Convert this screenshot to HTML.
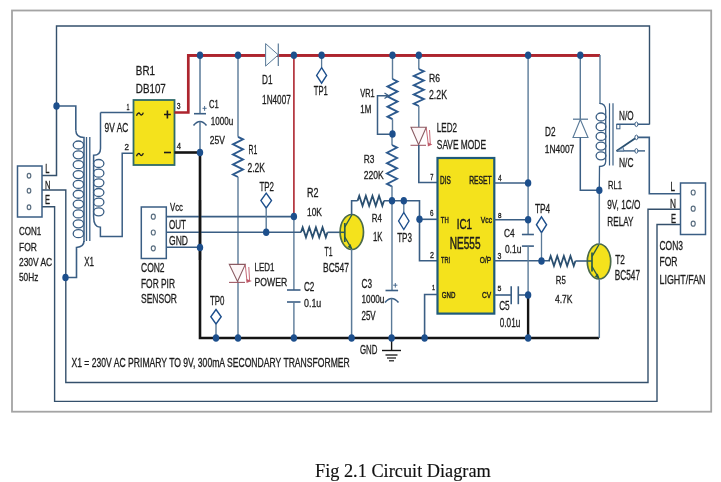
<!DOCTYPE html>
<html><head><meta charset="utf-8"><style>
html,body{margin:0;padding:0;background:#fff;width:721px;height:482px;overflow:hidden}
svg{display:block;will-change:transform}
</style></head><body>
<svg width="721" height="482" viewBox="0 0 721 482">
<rect width="721" height="482" fill="#fff"/>
<rect x="12" y="10.5" width="699.2" height="401.2" fill="none" stroke="#a4a4a4" stroke-width="1.8"/>
<polyline points="56.5,106 56.5,26 649.5,26 649.5,124.5" fill="none" stroke="#34506c" stroke-width="1.4" stroke-linejoin="miter" />
<polyline points="42,175.5 56.5,175.5 56.5,106" fill="none" stroke="#34506c" stroke-width="1.5" stroke-linejoin="miter" />
<polyline points="56.5,106 75.8,106 75.8,130.3" fill="none" stroke="#3a5e84" stroke-width="1.6" stroke-linejoin="miter" />
<polyline points="42,190 65.8,190 65.8,382.5 648,382.5 648,209.2 680.5,209.2" fill="none" stroke="#34506c" stroke-width="1.4" stroke-linejoin="miter" />
<polyline points="42,206.7 54.6,206.7 54.6,401.4 657,401.4 657,224.5 680.5,224.5" fill="none" stroke="#34506c" stroke-width="1.4" stroke-linejoin="miter" />
<polyline points="84,240.8 84,242" fill="none" stroke="#3a5e84" stroke-width="1.4" stroke-linejoin="miter" />
<path d="M84,240.8 Q84,247 76.5,247.5 L76.5,277.5 L65.5,277.5" fill="none" stroke="#3a5e84" stroke-width="1.6"/>
<ellipse cx="65.5" cy="277.5" rx="3.1999999999999997" ry="3.8" fill="#1d4f8c"/>
<ellipse cx="56.5" cy="106" rx="3.1999999999999997" ry="3.8" fill="#1d4f8c"/>
<rect x="17.5" y="166" width="24.5" height="51" fill="#fff" stroke="#3a5e84" stroke-width="1.5"/>
<ellipse cx="29" cy="175.7" rx="1.8" ry="2.4" fill="none" stroke="#5a6e80" stroke-width="1.2"/>
<ellipse cx="29" cy="190.7" rx="1.8" ry="2.4" fill="none" stroke="#5a6e80" stroke-width="1.2"/>
<ellipse cx="29" cy="207.3" rx="1.8" ry="2.4" fill="none" stroke="#5a6e80" stroke-width="1.2"/>
<text x="45.3" y="173.3" font-family="Liberation Sans" font-size="12.99" textLength="4.20" lengthAdjust="spacingAndGlyphs" fill="#1c1c1c" stroke="#1c1c1c" stroke-width="0.3" font-weight="normal">L</text>
<text x="45" y="188.7" font-family="Liberation Sans" font-size="11.73" textLength="5.50" lengthAdjust="spacingAndGlyphs" fill="#1c1c1c" stroke="#1c1c1c" stroke-width="0.3" font-weight="normal">N</text>
<text x="45" y="203.5" font-family="Liberation Sans" font-size="12.57" textLength="5.00" lengthAdjust="spacingAndGlyphs" fill="#1c1c1c" stroke="#1c1c1c" stroke-width="0.3" font-weight="normal">E</text>
<text x="19" y="235.3" font-family="Liberation Sans" font-size="11.59" textLength="22.30" lengthAdjust="spacingAndGlyphs" fill="#1c1c1c" stroke="#1c1c1c" stroke-width="0.3" font-weight="normal">CON1</text>
<text x="19" y="250.5" font-family="Liberation Sans" font-size="11.73" textLength="17.90" lengthAdjust="spacingAndGlyphs" fill="#1c1c1c" stroke="#1c1c1c" stroke-width="0.3" font-weight="normal">FOR</text>
<text x="19" y="265.8" font-family="Liberation Sans" font-size="11.59" textLength="33.20" lengthAdjust="spacingAndGlyphs" fill="#1c1c1c" stroke="#1c1c1c" stroke-width="0.3" font-weight="normal">230V AC</text>
<text x="19" y="281.3" font-family="Liberation Sans" font-size="11.59" textLength="19.30" lengthAdjust="spacingAndGlyphs" fill="#1c1c1c" stroke="#1c1c1c" stroke-width="0.3" font-weight="normal">50Hz</text>
<path d="M75.8,130.3 Q76,137.5 84,137.5 L84,240.8" fill="none" stroke="#3a5e84" stroke-width="1.5"/>
<ellipse cx="78.4" cy="145.00" rx="5.2" ry="4.0" fill="none" stroke="#3a5e84" stroke-width="1.3"/>
<ellipse cx="78.4" cy="154.85" rx="5.2" ry="4.0" fill="none" stroke="#3a5e84" stroke-width="1.3"/>
<ellipse cx="78.4" cy="164.70" rx="5.2" ry="4.0" fill="none" stroke="#3a5e84" stroke-width="1.3"/>
<ellipse cx="78.4" cy="174.55" rx="5.2" ry="4.0" fill="none" stroke="#3a5e84" stroke-width="1.3"/>
<ellipse cx="78.4" cy="184.40" rx="5.2" ry="4.0" fill="none" stroke="#3a5e84" stroke-width="1.3"/>
<ellipse cx="78.4" cy="194.25" rx="5.2" ry="4.0" fill="none" stroke="#3a5e84" stroke-width="1.3"/>
<ellipse cx="78.4" cy="204.10" rx="5.2" ry="4.0" fill="none" stroke="#3a5e84" stroke-width="1.3"/>
<ellipse cx="78.4" cy="213.95" rx="5.2" ry="4.0" fill="none" stroke="#3a5e84" stroke-width="1.3"/>
<ellipse cx="78.4" cy="223.80" rx="5.2" ry="4.0" fill="none" stroke="#3a5e84" stroke-width="1.3"/>
<ellipse cx="78.4" cy="233.65" rx="5.2" ry="4.0" fill="none" stroke="#3a5e84" stroke-width="1.3"/>
<line x1="86.5" y1="137" x2="86.5" y2="241" stroke="#3a5e84" stroke-width="1.3"/>
<line x1="89.8" y1="137" x2="89.8" y2="241" stroke="#3a5e84" stroke-width="1.3"/>
<path d="M100.5,112.5 L100.5,148.5 Q100.5,155.3 93.6,155.3 L93.6,216.5 Q93.6,227.3 100.4,227.3 L100.4,236.4 L122.2,236.4 L122.2,153.3 L133,153.3" fill="none" stroke="#3a5e84" stroke-width="1.5"/>
<polyline points="100.5,112.5 133,112.5" fill="none" stroke="#3a5e84" stroke-width="1.6" stroke-linejoin="miter" />
<ellipse cx="98.7" cy="163.50" rx="5.2" ry="4.0" fill="none" stroke="#3a5e84" stroke-width="1.3"/>
<ellipse cx="98.7" cy="173.16" rx="5.2" ry="4.0" fill="none" stroke="#3a5e84" stroke-width="1.3"/>
<ellipse cx="98.7" cy="182.82" rx="5.2" ry="4.0" fill="none" stroke="#3a5e84" stroke-width="1.3"/>
<ellipse cx="98.7" cy="192.48" rx="5.2" ry="4.0" fill="none" stroke="#3a5e84" stroke-width="1.3"/>
<ellipse cx="98.7" cy="202.14" rx="5.2" ry="4.0" fill="none" stroke="#3a5e84" stroke-width="1.3"/>
<ellipse cx="98.7" cy="211.80" rx="5.2" ry="4.0" fill="none" stroke="#3a5e84" stroke-width="1.3"/>
<text x="104.5" y="131.7" font-family="Liberation Sans" font-size="12.15" textLength="23.80" lengthAdjust="spacingAndGlyphs" fill="#1c1c1c" stroke="#1c1c1c" stroke-width="0.3" font-weight="normal">9V AC</text>
<text x="84.2" y="265.6" font-family="Liberation Sans" font-size="12.99" textLength="9.80" lengthAdjust="spacingAndGlyphs" fill="#1c1c1c" stroke="#1c1c1c" stroke-width="0.3" font-weight="normal">X1</text>
<rect x="133.5" y="100" width="41" height="65" fill="#f4e21c" stroke="#2f6a6a" stroke-width="1.8"/>
<text x="135.8" y="75.3" font-family="Liberation Sans" font-size="13.27" textLength="19.20" lengthAdjust="spacingAndGlyphs" fill="#1c1c1c" stroke="#1c1c1c" stroke-width="0.3" font-weight="normal">BR1</text>
<text x="135.8" y="93" font-family="Liberation Sans" font-size="13.55" textLength="30.00" lengthAdjust="spacingAndGlyphs" fill="#1c1c1c" stroke="#1c1c1c" stroke-width="0.3" font-weight="normal">DB107</text>
<text x="126.5" y="110" font-family="Liberation Sans" font-size="9.08" textLength="3.00" lengthAdjust="spacingAndGlyphs" fill="#1c1c1c" stroke="#1c1c1c" stroke-width="0.3" font-weight="normal">1</text>
<text x="124.5" y="150" font-family="Liberation Sans" font-size="9.08" textLength="4.50" lengthAdjust="spacingAndGlyphs" fill="#1c1c1c" stroke="#1c1c1c" stroke-width="0.3" font-weight="normal">2</text>
<text x="176.7" y="108.5" font-family="Liberation Sans" font-size="8.38" textLength="3.80" lengthAdjust="spacingAndGlyphs" fill="#1c1c1c" stroke="#1c1c1c" stroke-width="0.3" font-weight="normal">3</text>
<text x="176.7" y="148.5" font-family="Liberation Sans" font-size="9.08" textLength="4.30" lengthAdjust="spacingAndGlyphs" fill="#1c1c1c" stroke="#1c1c1c" stroke-width="0.3" font-weight="normal">4</text>
<path d="M136.5,115.8 C137.5,112.3 139.2,112.6 140,114 C140.8,115.4 142.4,115.6 143.3,112.6" fill="none" stroke="#1c1c1c" stroke-width="1.3"/>
<path d="M136.5,156.3 C137.5,152.8 139.2,153.1 140,154.5 C140.8,155.9 142.4,156.1 143.3,153.1" fill="none" stroke="#1c1c1c" stroke-width="1.3"/>
<path d="M164,114.5 H170.8 M167.4,110.5 V118.5" stroke="#1c1c1c" stroke-width="1.6"/>
<path d="M164,152.5 H171" stroke="#1c1c1c" stroke-width="1.6"/>
<polyline points="174.5,112.5 188.3,112.5 188.3,55.3 600,55.3" fill="none" stroke="#ad252e" stroke-width="2.7" stroke-linejoin="miter" />
<polyline points="174.5,152.5 200,152.5" fill="none" stroke="#141414" stroke-width="2.6" stroke-linejoin="miter" />
<polyline points="200,152.5 200,338 599,338" fill="none" stroke="#141414" stroke-width="2.6" stroke-linejoin="miter" />
<line x1="200" y1="55" x2="200" y2="113.7" stroke="#5a7a98" stroke-width="1.5"/>
<line x1="194" y1="113.7" x2="206" y2="113.7" stroke="#3a5e84" stroke-width="1.6"/>
<path d="M193.5,125.5 Q200,117.5 206.5,125.5" fill="none" stroke="#3a5e84" stroke-width="1.6"/>
<line x1="200" y1="121.7" x2="200" y2="152.5" stroke="#5a7a98" stroke-width="1.5"/>
<path d="M202.5,108.3 H206.7 M204.6,106 V110.8" stroke="#3a5e84" stroke-width="0.9"/>
<text x="209" y="107.5" font-family="Liberation Sans" font-size="10.47" textLength="9.70" lengthAdjust="spacingAndGlyphs" fill="#1c1c1c" stroke="#1c1c1c" stroke-width="0.3" font-weight="normal">C1</text>
<text x="210.8" y="125" font-family="Liberation Sans" font-size="11.59" textLength="22.50" lengthAdjust="spacingAndGlyphs" fill="#1c1c1c" stroke="#1c1c1c" stroke-width="0.3" font-weight="normal">1000u</text>
<text x="209.7" y="143.6" font-family="Liberation Sans" font-size="11.31" textLength="15.10" lengthAdjust="spacingAndGlyphs" fill="#1c1c1c" stroke="#1c1c1c" stroke-width="0.3" font-weight="normal">25V</text>
<line x1="238" y1="55" x2="238" y2="136.8" stroke="#5a7a98" stroke-width="1.4"/>
<polyline points="238,136.8 243,139.3125 233,144.3375 243,149.3625 233,154.38750000000002 243,159.4125 233,164.4375 243,169.4625 233,174.4875 238,177" fill="none" stroke="#2d5a8e" stroke-width="1.9" stroke-linejoin="miter" />
<line x1="238" y1="177" x2="238" y2="264.4" stroke="#5a7a98" stroke-width="1.4"/>
<line x1="238" y1="281.5" x2="238" y2="338" stroke="#5a7a98" stroke-width="1.4"/>
<text x="248.5" y="154.4" font-family="Liberation Sans" font-size="13.13" textLength="8.80" lengthAdjust="spacingAndGlyphs" fill="#1c1c1c" stroke="#1c1c1c" stroke-width="0.3" font-weight="normal">R1</text>
<text x="247.5" y="171.9" font-family="Liberation Sans" font-size="13.13" textLength="17.50" lengthAdjust="spacingAndGlyphs" fill="#1c1c1c" stroke="#1c1c1c" stroke-width="0.3" font-weight="normal">2.2K</text>
<polygon points="229.3,264.4 245.3,264.4 237.5,281.5" fill="#fdf6f7" stroke="#8a5a62" stroke-width="1.1"/>
<line x1="229" y1="282.4" x2="245" y2="282.4" stroke="#a05a66" stroke-width="1.1"/>
<path d="M245.3,265 L247,281.5 M248.8,267 L249.6,281" fill="none" stroke="#c05868" stroke-width="0.9"/>
<polygon points="246.5,279 251.8,281 246.5,283" fill="#c05868"/>
<text x="254.6" y="271" font-family="Liberation Sans" font-size="10.47" textLength="19.90" lengthAdjust="spacingAndGlyphs" fill="#1c1c1c" stroke="#1c1c1c" stroke-width="0.3" font-weight="normal">LED1</text>
<text x="254.6" y="286.4" font-family="Liberation Sans" font-size="11.73" textLength="32.70" lengthAdjust="spacingAndGlyphs" fill="#1c1c1c" stroke="#1c1c1c" stroke-width="0.3" font-weight="normal">POWER</text>
<polyline points="188.3,55.3 600,55.3" fill="none" stroke="#ad252e" stroke-width="2.7" stroke-linejoin="miter" />
<polygon points="265.6,43.6 278.3,54.9 265.6,66.1" fill="#f6fbfd" stroke="#5a7a98" stroke-width="1"/>
<line x1="278.3" y1="43.6" x2="278.3" y2="66.1" stroke="#5a7a98" stroke-width="1.2"/>
<text x="262.1" y="84" font-family="Liberation Sans" font-size="12.99" textLength="10.50" lengthAdjust="spacingAndGlyphs" fill="#1c1c1c" stroke="#1c1c1c" stroke-width="0.3" font-weight="normal">D1</text>
<text x="262.1" y="104.3" font-family="Liberation Sans" font-size="12.01" textLength="28.70" lengthAdjust="spacingAndGlyphs" fill="#1c1c1c" stroke="#1c1c1c" stroke-width="0.3" font-weight="normal">1N4007</text>
<line x1="293.9" y1="55" x2="293.9" y2="217" stroke="#ad252e" stroke-width="1.6"/>
<line x1="293.9" y1="217" x2="293.9" y2="290" stroke="#5a7a98" stroke-width="1.4"/>
<line x1="287" y1="290" x2="300.5" y2="290" stroke="#3a5e84" stroke-width="1.6"/>
<line x1="287" y1="302" x2="300.5" y2="302" stroke="#3a5e84" stroke-width="1.6"/>
<line x1="293.9" y1="302" x2="293.9" y2="338" stroke="#5a7a98" stroke-width="1.4"/>
<text x="303.9" y="291.3" font-family="Liberation Sans" font-size="12.57" textLength="10.40" lengthAdjust="spacingAndGlyphs" fill="#1c1c1c" stroke="#1c1c1c" stroke-width="0.3" font-weight="normal">C2</text>
<text x="304" y="307.4" font-family="Liberation Sans" font-size="11.73" textLength="17.30" lengthAdjust="spacingAndGlyphs" fill="#1c1c1c" stroke="#1c1c1c" stroke-width="0.3" font-weight="normal">0.1u</text>
<line x1="321.6" y1="55" x2="321.6" y2="67.7" stroke="#5a7a98" stroke-width="1.3"/>
<polygon points="321.6,67.7 326.6,75.45 321.6,83.2 316.6,75.45" fill="#fff" stroke="#1d4f8c" stroke-width="1.4"/>
<text x="313.8" y="94.9" font-family="Liberation Sans" font-size="12.99" textLength="14.00" lengthAdjust="spacingAndGlyphs" fill="#1c1c1c" stroke="#1c1c1c" stroke-width="0.3" font-weight="normal">TP1</text>
<rect x="141.3" y="207" width="25" height="51.5" fill="#fff" stroke="#3a5e84" stroke-width="1.5"/>
<ellipse cx="153.3" cy="216.7" rx="2" ry="2.5" fill="none" stroke="#5a6e80" stroke-width="1.2"/>
<ellipse cx="153.3" cy="232.5" rx="2" ry="2.5" fill="none" stroke="#5a6e80" stroke-width="1.2"/>
<ellipse cx="153.3" cy="248.3" rx="2" ry="2.5" fill="none" stroke="#5a6e80" stroke-width="1.2"/>
<polyline points="166.3,216.6 293.9,216.6" fill="none" stroke="#3a5e84" stroke-width="1.6" stroke-linejoin="miter" />
<polyline points="166.3,232.2 301,232.2" fill="none" stroke="#3a5e84" stroke-width="1.6" stroke-linejoin="miter" />
<polyline points="166.3,247.3 200,247.3" fill="none" stroke="#3a5e84" stroke-width="1.6" stroke-linejoin="miter" />
<line x1="200" y1="200" x2="200" y2="260" stroke="#141414" stroke-width="2.4"/>
<text x="170" y="211" font-family="Liberation Sans" font-size="11.17" textLength="13.00" lengthAdjust="spacingAndGlyphs" fill="#1c1c1c" stroke="#1c1c1c" stroke-width="0.3" font-weight="normal">Vcc</text>
<text x="169" y="228.5" font-family="Liberation Sans" font-size="12.57" textLength="17.00" lengthAdjust="spacingAndGlyphs" fill="#1c1c1c" stroke="#1c1c1c" stroke-width="0.3" font-weight="normal">OUT</text>
<text x="169" y="245" font-family="Liberation Sans" font-size="12.57" textLength="19.00" lengthAdjust="spacingAndGlyphs" fill="#1c1c1c" stroke="#1c1c1c" stroke-width="0.3" font-weight="normal">GND</text>
<text x="141" y="271.6" font-family="Liberation Sans" font-size="12.29" textLength="23.60" lengthAdjust="spacingAndGlyphs" fill="#1c1c1c" stroke="#1c1c1c" stroke-width="0.3" font-weight="normal">CON2</text>
<text x="141" y="287.7" font-family="Liberation Sans" font-size="12.99" textLength="34.00" lengthAdjust="spacingAndGlyphs" fill="#1c1c1c" stroke="#1c1c1c" stroke-width="0.3" font-weight="normal">FOR PIR</text>
<text x="141" y="303.3" font-family="Liberation Sans" font-size="12.99" textLength="36.00" lengthAdjust="spacingAndGlyphs" fill="#1c1c1c" stroke="#1c1c1c" stroke-width="0.3" font-weight="normal">SENSOR</text>
<polygon points="266.2,193.2 271.5,200.6 266.2,208 260.9,200.6" fill="#fff" stroke="#1d4f8c" stroke-width="1.4"/>
<line x1="266.2" y1="208" x2="266.2" y2="232.3" stroke="#5a7a98" stroke-width="1.4"/>
<text x="259.4" y="190.5" font-family="Liberation Sans" font-size="13.27" textLength="14.60" lengthAdjust="spacingAndGlyphs" fill="#1c1c1c" stroke="#1c1c1c" stroke-width="0.3" font-weight="normal">TP2</text>
<polygon points="216,309.5 221.2,316.75 216,324 210.8,316.75" fill="#fff" stroke="#1d4f8c" stroke-width="1.4"/>
<line x1="216" y1="324" x2="216" y2="338" stroke="#5a7a98" stroke-width="1.4"/>
<text x="210" y="305" font-family="Liberation Sans" font-size="12.57" textLength="14.50" lengthAdjust="spacingAndGlyphs" fill="#1c1c1c" stroke="#1c1c1c" stroke-width="0.3" font-weight="normal">TP0</text>
<polyline points="301,232.3 302.65625,227.3 305.96875,237.3 309.28125,227.3 312.59375,237.3 315.90625,227.3 319.21875,237.3 322.53125,227.3 325.84375,237.3 327.5,232.3" fill="none" stroke="#2a4f70" stroke-width="1.8" stroke-linejoin="miter" />
<line x1="327.5" y1="232.3" x2="344.8" y2="232.3" stroke="#3a5e84" stroke-width="1.6"/>
<text x="307" y="196.5" font-family="Liberation Sans" font-size="11.87" textLength="11.50" lengthAdjust="spacingAndGlyphs" fill="#1c1c1c" stroke="#1c1c1c" stroke-width="0.3" font-weight="normal">R2</text>
<text x="307" y="215.5" font-family="Liberation Sans" font-size="11.17" textLength="15.00" lengthAdjust="spacingAndGlyphs" fill="#1c1c1c" stroke="#1c1c1c" stroke-width="0.3" font-weight="normal">10K</text>
<ellipse cx="351.8" cy="232" rx="11.7" ry="17.5" fill="#f4e21c" stroke="#4a6a4a" stroke-width="1.7"/>
<line x1="340.1" y1="232.3" x2="344.8" y2="232.3" stroke="#2a5a5a" stroke-width="1.5"/>
<line x1="344.8" y1="223" x2="344.8" y2="242" stroke="#2a5a4a" stroke-width="1.7"/>
<line x1="344.8" y1="227" x2="351.8" y2="215" stroke="#2a5a4a" stroke-width="1.4"/>
<line x1="344.8" y1="237" x2="351.8" y2="249" stroke="#2a5a4a" stroke-width="1.4"/>
<polygon points="352.1,249.3 347.6,247 350.6,244" fill="#2a5a4a"/>
<polyline points="351.6,215 351.6,200.8 357.6,200.8" fill="none" stroke="#3a5e84" stroke-width="1.6" stroke-linejoin="miter" />
<polyline points="357.6,200.8 359.25,195.8 362.55,205.8 365.85,195.8 369.15000000000003,205.8 372.45,195.8 375.75,205.8 379.05,195.8 382.35,205.8 384,200.8" fill="none" stroke="#2a4f70" stroke-width="1.8" stroke-linejoin="miter" />
<polyline points="384,200.8 419.5,200.8 419.5,260.7 437.5,260.7" fill="none" stroke="#3a5e84" stroke-width="1.6" stroke-linejoin="miter" />
<line x1="351.6" y1="249" x2="351.6" y2="338" stroke="#5a7a98" stroke-width="1.5"/>
<text x="324.5" y="256" font-family="Liberation Sans" font-size="12.57" textLength="8.00" lengthAdjust="spacingAndGlyphs" fill="#1c1c1c" stroke="#1c1c1c" stroke-width="0.3" font-weight="normal">T1</text>
<text x="323" y="272" font-family="Liberation Sans" font-size="13.27" textLength="26.00" lengthAdjust="spacingAndGlyphs" fill="#1c1c1c" stroke="#1c1c1c" stroke-width="0.3" font-weight="normal">BC547</text>
<text x="371.8" y="222.3" font-family="Liberation Sans" font-size="10.47" textLength="10.20" lengthAdjust="spacingAndGlyphs" fill="#1c1c1c" stroke="#1c1c1c" stroke-width="0.3" font-weight="normal">R4</text>
<text x="373" y="240.5" font-family="Liberation Sans" font-size="11.87" textLength="9.50" lengthAdjust="spacingAndGlyphs" fill="#1c1c1c" stroke="#1c1c1c" stroke-width="0.3" font-weight="normal">1K</text>
<line x1="392.5" y1="55" x2="392.5" y2="79" stroke="#5a7a98" stroke-width="1.4"/>
<polyline points="392.5,79 397.5,81.5125 387.5,86.5375 397.5,91.5625 387.5,96.5875 397.5,101.6125 387.5,106.6375 397.5,111.6625 387.5,116.6875 392.5,119.2" fill="none" stroke="#2d5a8e" stroke-width="1.9" stroke-linejoin="miter" />
<line x1="392.5" y1="119.2" x2="392.5" y2="134" stroke="#5a7a98" stroke-width="1.4"/>
<polyline points="388.3,95.8 377.5,95.8 377.5,134.2 392.5,134.2" fill="none" stroke="#3a5e84" stroke-width="1.5" stroke-linejoin="miter" />
<path d="M384.5,93 L388.8,95.8 L384.5,98.5" fill="none" stroke="#3a5e84" stroke-width="1.2"/>
<text x="360.3" y="96.9" font-family="Liberation Sans" font-size="10.75" textLength="14.40" lengthAdjust="spacingAndGlyphs" fill="#1c1c1c" stroke="#1c1c1c" stroke-width="0.3" font-weight="normal">VR1</text>
<text x="360.3" y="113" font-family="Liberation Sans" font-size="11.17" textLength="11.00" lengthAdjust="spacingAndGlyphs" fill="#1c1c1c" stroke="#1c1c1c" stroke-width="0.3" font-weight="normal">1M</text>
<line x1="392" y1="134" x2="392" y2="145" stroke="#5a7a98" stroke-width="1.4"/>
<polyline points="392,145 397,147.59375 387,152.78125 397,157.96875 387,163.15625 397,168.34375 387,173.53125 397,178.71875 387,183.90625 392,186.5" fill="none" stroke="#2d5a8e" stroke-width="1.9" stroke-linejoin="miter" />
<line x1="392" y1="186" x2="392" y2="290.5" stroke="#5a7a98" stroke-width="1.4"/>
<text x="363.7" y="163.2" font-family="Liberation Sans" font-size="11.73" textLength="10.70" lengthAdjust="spacingAndGlyphs" fill="#1c1c1c" stroke="#1c1c1c" stroke-width="0.3" font-weight="normal">R3</text>
<text x="363.7" y="179" font-family="Liberation Sans" font-size="11.45" textLength="20.00" lengthAdjust="spacingAndGlyphs" fill="#1c1c1c" stroke="#1c1c1c" stroke-width="0.3" font-weight="normal">220K</text>
<line x1="385.5" y1="290.5" x2="398.1" y2="290.5" stroke="#3a5e84" stroke-width="1.6"/>
<path d="M385,302.5 Q391.6,294.5 398.5,302.5" fill="none" stroke="#3a5e84" stroke-width="1.6"/>
<line x1="391.6" y1="298.5" x2="391.6" y2="338" stroke="#5a7a98" stroke-width="1.4"/>
<path d="M393.2,285.2 H397.4 M395.3,283 V287.6" stroke="#3a5e84" stroke-width="0.9"/>
<text x="361.5" y="288" font-family="Liberation Sans" font-size="12.29" textLength="10.50" lengthAdjust="spacingAndGlyphs" fill="#1c1c1c" stroke="#1c1c1c" stroke-width="0.3" font-weight="normal">C3</text>
<text x="361.5" y="303.2" font-family="Liberation Sans" font-size="10.61" textLength="22.90" lengthAdjust="spacingAndGlyphs" fill="#1c1c1c" stroke="#1c1c1c" stroke-width="0.3" font-weight="normal">1000u</text>
<text x="361.5" y="319.5" font-family="Liberation Sans" font-size="12.15" textLength="14.20" lengthAdjust="spacingAndGlyphs" fill="#1c1c1c" stroke="#1c1c1c" stroke-width="0.3" font-weight="normal">25V</text>
<line x1="403.8" y1="200.8" x2="403.8" y2="212.5" stroke="#5a7a98" stroke-width="1.3"/>
<polygon points="403.8,212.5 409.0,221.0 403.8,229.5 398.6,221.0" fill="#fff" stroke="#1d4f8c" stroke-width="1.4"/>
<text x="397.2" y="242" font-family="Liberation Sans" font-size="13.27" textLength="14.80" lengthAdjust="spacingAndGlyphs" fill="#1c1c1c" stroke="#1c1c1c" stroke-width="0.3" font-weight="normal">TP3</text>
<line x1="418.8" y1="55" x2="418.8" y2="69" stroke="#5a7a98" stroke-width="1.4"/>
<polyline points="418.8,69 423.8,71.3125 413.8,75.9375 423.8,80.5625 413.8,85.1875 423.8,89.8125 413.8,94.4375 423.8,99.0625 413.8,103.6875 418.8,106" fill="none" stroke="#2d5a8e" stroke-width="1.9" stroke-linejoin="miter" />
<line x1="418.8" y1="106" x2="418.8" y2="127" stroke="#5a7a98" stroke-width="1.4"/>
<polygon points="411,127.3 426.3,127.3 418.6,144.6" fill="#fdf6f7" stroke="#8a5a62" stroke-width="1.1"/>
<line x1="410.5" y1="145.3" x2="426" y2="145.3" stroke="#a05a66" stroke-width="1.1"/>
<path d="M426.3,128 L428.3,144.5 M429.5,130 L430.3,144" fill="none" stroke="#c05868" stroke-width="0.9"/>
<polygon points="427.8,142.5 432.3,144.5 427.8,146.5" fill="#c05868"/>
<polyline points="418.8,145 418.8,182.5 437.5,182.5" fill="none" stroke="#3a5e84" stroke-width="1.6" stroke-linejoin="miter" />
<text x="429" y="82" font-family="Liberation Sans" font-size="10.47" textLength="11.00" lengthAdjust="spacingAndGlyphs" fill="#1c1c1c" stroke="#1c1c1c" stroke-width="0.3" font-weight="normal">R6</text>
<text x="429" y="99" font-family="Liberation Sans" font-size="12.57" textLength="18.00" lengthAdjust="spacingAndGlyphs" fill="#1c1c1c" stroke="#1c1c1c" stroke-width="0.3" font-weight="normal">2.2K</text>
<text x="436.8" y="131.6" font-family="Liberation Sans" font-size="12.15" textLength="20.20" lengthAdjust="spacingAndGlyphs" fill="#1c1c1c" stroke="#1c1c1c" stroke-width="0.3" font-weight="normal">LED2</text>
<text x="436.8" y="148.8" font-family="Liberation Sans" font-size="12.99" textLength="49.20" lengthAdjust="spacingAndGlyphs" fill="#1c1c1c" stroke="#1c1c1c" stroke-width="0.3" font-weight="normal">SAVE MODE</text>
<rect x="437.5" y="158" width="56.8" height="155.6" fill="#f4e21c" stroke="#1f5a7a" stroke-width="2.2"/>
<line x1="419.5" y1="219.3" x2="437.5" y2="219.3" stroke="#3a5e84" stroke-width="1.6"/>
<polyline points="437.5,294.5 424.6,294.5 424.6,338" fill="none" stroke="#3a5e84" stroke-width="1.6" stroke-linejoin="miter" />
<text x="430.3" y="180" font-family="Liberation Sans" font-size="9.36" textLength="3.20" lengthAdjust="spacingAndGlyphs" fill="#1c1c1c" stroke="#1c1c1c" stroke-width="0.3" font-weight="normal">7</text>
<text x="440" y="184.2" font-family="Liberation Sans" font-size="10.47" textLength="10.80" lengthAdjust="spacingAndGlyphs" fill="#1c1c1c" stroke="#1c1c1c" stroke-width="0.45" font-weight="normal">DIS</text>
<text x="469.2" y="184.2" font-family="Liberation Sans" font-size="10.47" textLength="22.50" lengthAdjust="spacingAndGlyphs" fill="#1c1c1c" stroke="#1c1c1c" stroke-width="0.45" font-weight="normal">RESET</text>
<text x="498" y="180.8" font-family="Liberation Sans" font-size="9.50" textLength="3.70" lengthAdjust="spacingAndGlyphs" fill="#1c1c1c" stroke="#1c1c1c" stroke-width="0.3" font-weight="normal">4</text>
<text x="430" y="216.2" font-family="Liberation Sans" font-size="8.24" textLength="3.50" lengthAdjust="spacingAndGlyphs" fill="#1c1c1c" stroke="#1c1c1c" stroke-width="0.3" font-weight="normal">6</text>
<text x="440.8" y="222.5" font-family="Liberation Sans" font-size="9.36" textLength="7.90" lengthAdjust="spacingAndGlyphs" fill="#1c1c1c" stroke="#1c1c1c" stroke-width="0.45" font-weight="normal">TH</text>
<text x="456.7" y="229.2" font-family="Liberation Sans" font-size="15.08" textLength="15.30" lengthAdjust="spacingAndGlyphs" fill="#1c1c1c" stroke="#1c1c1c" stroke-width="0.5" font-weight="normal">IC1</text>
<text x="449.7" y="249.2" font-family="Liberation Sans" font-size="15.92" textLength="30.80" lengthAdjust="spacingAndGlyphs" fill="#1c1c1c" stroke="#1c1c1c" stroke-width="0.5" font-weight="normal">NE555</text>
<text x="480.8" y="222.5" font-family="Liberation Sans" font-size="9.36" textLength="11.20" lengthAdjust="spacingAndGlyphs" fill="#1c1c1c" stroke="#1c1c1c" stroke-width="0.45" font-weight="normal">Vcc</text>
<text x="498" y="217.5" font-family="Liberation Sans" font-size="8.10" textLength="3.50" lengthAdjust="spacingAndGlyphs" fill="#1c1c1c" stroke="#1c1c1c" stroke-width="0.3" font-weight="normal">8</text>
<text x="430" y="258" font-family="Liberation Sans" font-size="8.38" textLength="4.00" lengthAdjust="spacingAndGlyphs" fill="#1c1c1c" stroke="#1c1c1c" stroke-width="0.3" font-weight="normal">2</text>
<text x="441" y="263" font-family="Liberation Sans" font-size="9.78" textLength="9.00" lengthAdjust="spacingAndGlyphs" fill="#1c1c1c" stroke="#1c1c1c" stroke-width="0.45" font-weight="normal">TRI</text>
<text x="479.8" y="263" font-family="Liberation Sans" font-size="9.78" textLength="11.40" lengthAdjust="spacingAndGlyphs" fill="#1c1c1c" stroke="#1c1c1c" stroke-width="0.45" font-weight="normal">O/P</text>
<text x="497.6" y="259" font-family="Liberation Sans" font-size="8.38" textLength="3.90" lengthAdjust="spacingAndGlyphs" fill="#1c1c1c" stroke="#1c1c1c" stroke-width="0.3" font-weight="normal">3</text>
<text x="432" y="290.3" font-family="Liberation Sans" font-size="6.28" textLength="3.00" lengthAdjust="spacingAndGlyphs" fill="#1c1c1c" stroke="#1c1c1c" stroke-width="0.3" font-weight="normal">1</text>
<text x="441.7" y="298.3" font-family="Liberation Sans" font-size="9.50" textLength="13.70" lengthAdjust="spacingAndGlyphs" fill="#1c1c1c" stroke="#1c1c1c" stroke-width="0.45" font-weight="normal">GND</text>
<text x="482" y="298.3" font-family="Liberation Sans" font-size="9.50" textLength="9.20" lengthAdjust="spacingAndGlyphs" fill="#1c1c1c" stroke="#1c1c1c" stroke-width="0.45" font-weight="normal">CV</text>
<text x="497.6" y="291" font-family="Liberation Sans" font-size="7.68" textLength="3.90" lengthAdjust="spacingAndGlyphs" fill="#1c1c1c" stroke="#1c1c1c" stroke-width="0.3" font-weight="normal">5</text>
<polyline points="494.3,183 528.1,183" fill="none" stroke="#3a5e84" stroke-width="1.6" stroke-linejoin="miter" />
<polyline points="494.3,219.7 528.1,219.7" fill="none" stroke="#3a5e84" stroke-width="1.6" stroke-linejoin="miter" />
<polyline points="494.3,260.8 550,260.8" fill="none" stroke="#3a5e84" stroke-width="1.6" stroke-linejoin="miter" />
<polyline points="494.3,295 511.2,295" fill="none" stroke="#3a5e84" stroke-width="1.6" stroke-linejoin="miter" />
<line x1="528.1" y1="55" x2="528.1" y2="234.5" stroke="#5a7a98" stroke-width="1.4"/>
<line x1="521.9" y1="234.5" x2="533.9" y2="234.5" stroke="#3a5e84" stroke-width="1.6"/>
<line x1="521.9" y1="246.1" x2="533.9" y2="246.1" stroke="#3a5e84" stroke-width="1.6"/>
<line x1="528.1" y1="246.1" x2="528.1" y2="295" stroke="#5a7a98" stroke-width="1.4"/>
<line x1="528.1" y1="295" x2="528.1" y2="338" stroke="#141414" stroke-width="2.4"/>
<line x1="511.2" y1="286.3" x2="511.2" y2="304.2" stroke="#3a5e84" stroke-width="1.6"/>
<line x1="518.3" y1="286.3" x2="518.3" y2="304.2" stroke="#3a5e84" stroke-width="1.6"/>
<line x1="518.3" y1="295" x2="528.1" y2="295" stroke="#3a5e84" stroke-width="1.6"/>
<text x="504" y="237.1" font-family="Liberation Sans" font-size="11.17" textLength="10.60" lengthAdjust="spacingAndGlyphs" fill="#1c1c1c" stroke="#1c1c1c" stroke-width="0.3" font-weight="normal">C4</text>
<text x="504.9" y="253" font-family="Liberation Sans" font-size="11.17" textLength="16.50" lengthAdjust="spacingAndGlyphs" fill="#1c1c1c" stroke="#1c1c1c" stroke-width="0.3" font-weight="normal">0.1u</text>
<text x="499.2" y="310" font-family="Liberation Sans" font-size="12.85" textLength="10.50" lengthAdjust="spacingAndGlyphs" fill="#1c1c1c" stroke="#1c1c1c" stroke-width="0.3" font-weight="normal">C5</text>
<text x="499.7" y="326.7" font-family="Liberation Sans" font-size="12.85" textLength="20.60" lengthAdjust="spacingAndGlyphs" fill="#1c1c1c" stroke="#1c1c1c" stroke-width="0.3" font-weight="normal">0.01u</text>
<polygon points="541.5,216.8 546.6,224.75 541.5,232.7 536.4,224.75" fill="#fff" stroke="#1d4f8c" stroke-width="1.4"/>
<line x1="541.5" y1="232.7" x2="541.5" y2="261" stroke="#5a7a98" stroke-width="1.3"/>
<text x="534.9" y="213.1" font-family="Liberation Sans" font-size="13.13" textLength="15.30" lengthAdjust="spacingAndGlyphs" fill="#1c1c1c" stroke="#1c1c1c" stroke-width="0.3" font-weight="normal">TP4</text>
<polyline points="549,261 550.65,256 553.95,266 557.25,256 560.55,266 563.85,256 567.15,266 570.4499999999999,256 573.75,266 575.4,261" fill="none" stroke="#2a4f70" stroke-width="1.8" stroke-linejoin="miter" />
<line x1="575.4" y1="261" x2="591.3" y2="261" stroke="#3a5e84" stroke-width="1.6"/>
<text x="555.8" y="284.2" font-family="Liberation Sans" font-size="10.47" textLength="10.00" lengthAdjust="spacingAndGlyphs" fill="#1c1c1c" stroke="#1c1c1c" stroke-width="0.3" font-weight="normal">R5</text>
<text x="555" y="302.5" font-family="Liberation Sans" font-size="10.47" textLength="17.50" lengthAdjust="spacingAndGlyphs" fill="#1c1c1c" stroke="#1c1c1c" stroke-width="0.3" font-weight="normal">4.7K</text>
<ellipse cx="599" cy="261.5" rx="11.7" ry="17.5" fill="#f4e21c" stroke="#4a6a4a" stroke-width="1.7"/>
<line x1="587.3" y1="261" x2="592" y2="261" stroke="#2a5a5a" stroke-width="1.5"/>
<line x1="592" y1="252.5" x2="592" y2="271.5" stroke="#2a5a4a" stroke-width="1.7"/>
<line x1="592" y1="256.5" x2="599" y2="244.5" stroke="#2a5a4a" stroke-width="1.4"/>
<line x1="592" y1="266.5" x2="599" y2="278.5" stroke="#2a5a4a" stroke-width="1.4"/>
<polygon points="599.3,278.8 594.8,276.5 597.8,273.5" fill="#2a5a4a"/>
<line x1="599.3" y1="244.5" x2="599.3" y2="190.3" stroke="#5a7a98" stroke-width="1.5"/>
<line x1="599.3" y1="279" x2="599.3" y2="338" stroke="#5a7a98" stroke-width="1.5"/>
<text x="615.3" y="264.4" font-family="Liberation Sans" font-size="12.71" textLength="9.60" lengthAdjust="spacingAndGlyphs" fill="#1c1c1c" stroke="#1c1c1c" stroke-width="0.3" font-weight="normal">T2</text>
<text x="614.8" y="280" font-family="Liberation Sans" font-size="13.83" textLength="25.20" lengthAdjust="spacingAndGlyphs" fill="#1c1c1c" stroke="#1c1c1c" stroke-width="0.3" font-weight="normal">BC547</text>
<line x1="580.3" y1="55" x2="580.3" y2="119.2" stroke="#5a7a98" stroke-width="1.4"/>
<line x1="573" y1="119.2" x2="588" y2="119.2" stroke="#5a7a98" stroke-width="1.3"/>
<polygon points="580.3,119.5 573,137.5 588,137.5" fill="#fff" stroke="#5a7a98" stroke-width="1.1"/>
<polyline points="580.3,137.5 580.3,190.3 599.3,190.3" fill="none" stroke="#3a5e84" stroke-width="1.5" stroke-linejoin="miter" />
<text x="545" y="136" font-family="Liberation Sans" font-size="11.87" textLength="10.50" lengthAdjust="spacingAndGlyphs" fill="#1c1c1c" stroke="#1c1c1c" stroke-width="0.3" font-weight="normal">D2</text>
<text x="544.7" y="153.4" font-family="Liberation Sans" font-size="11.03" textLength="29.60" lengthAdjust="spacingAndGlyphs" fill="#1c1c1c" stroke="#1c1c1c" stroke-width="0.3" font-weight="normal">1N4007</text>
<line x1="600" y1="55" x2="600" y2="104" stroke="#5a7a98" stroke-width="1.4"/>
<path d="M599.5,103.3 Q605.7,103.5 605.7,110.5 L605.7,161.3 Q605.7,166.5 599.5,166.5 L599.3,190.3" fill="none" stroke="#3a5e84" stroke-width="1.3"/>
<ellipse cx="601" cy="117.0" rx="4.9" ry="4.0" fill="none" stroke="#3a5e84" stroke-width="1.3"/>
<ellipse cx="601" cy="126.7" rx="4.9" ry="4.0" fill="none" stroke="#3a5e84" stroke-width="1.3"/>
<ellipse cx="601" cy="136.4" rx="4.9" ry="4.0" fill="none" stroke="#3a5e84" stroke-width="1.3"/>
<ellipse cx="601" cy="146.1" rx="4.9" ry="4.0" fill="none" stroke="#3a5e84" stroke-width="1.3"/>
<ellipse cx="601" cy="155.8" rx="4.9" ry="4.0" fill="none" stroke="#3a5e84" stroke-width="1.3"/>
<line x1="609.5" y1="103.3" x2="609.5" y2="165.5" stroke="#3a5e84" stroke-width="1.2"/>
<line x1="613" y1="103.3" x2="613" y2="165.5" stroke="#3a5e84" stroke-width="1.2"/>
<polyline points="616.5,124.3 649.5,124.3" fill="none" stroke="#3a5e84" stroke-width="1.4" stroke-linejoin="miter" />
<rect x="616.7" y="124.5" width="3.2" height="4.3" fill="#fff" stroke="#3a5e84" stroke-width="1"/>
<ellipse cx="636.4" cy="124.3" rx="1.5" ry="2.3" fill="#fff" stroke="#3a5e84" stroke-width="1"/>
<line x1="616.5" y1="150.9" x2="645" y2="150.9" stroke="#3a5e84" stroke-width="1.4"/>
<ellipse cx="636.4" cy="150.9" rx="1.5" ry="2.3" fill="#fff" stroke="#3a5e84" stroke-width="1"/>
<line x1="616.5" y1="150.9" x2="636.4" y2="137.4" stroke="#2a5070" stroke-width="1.8"/>
<polygon points="617,150.9 624,150.9 623,147.3" fill="#cfe0ee" stroke="#3a5e84" stroke-width="0.8"/>
<polyline points="636.4,137.4 649.3,137.4 649.3,193.7 680.5,193.7" fill="none" stroke="#3a5e84" stroke-width="1.6" stroke-linejoin="miter" />
<ellipse cx="636.4" cy="137.4" rx="1.5" ry="2.3" fill="#fff" stroke="#3a5e84" stroke-width="1"/>
<text x="619" y="119.5" font-family="Liberation Sans" font-size="12.57" textLength="14.50" lengthAdjust="spacingAndGlyphs" fill="#1c1c1c" stroke="#1c1c1c" stroke-width="0.3" font-weight="normal">N/O</text>
<text x="619" y="166.7" font-family="Liberation Sans" font-size="12.85" textLength="14.50" lengthAdjust="spacingAndGlyphs" fill="#1c1c1c" stroke="#1c1c1c" stroke-width="0.3" font-weight="normal">N/C</text>
<text x="608" y="188.7" font-family="Liberation Sans" font-size="11.45" textLength="14.00" lengthAdjust="spacingAndGlyphs" fill="#1c1c1c" stroke="#1c1c1c" stroke-width="0.3" font-weight="normal">RL1</text>
<text x="607.3" y="208.5" font-family="Liberation Sans" font-size="12.71" textLength="33.10" lengthAdjust="spacingAndGlyphs" fill="#1c1c1c" stroke="#1c1c1c" stroke-width="0.3" font-weight="normal">9V, 1C/O</text>
<text x="607.3" y="225.6" font-family="Liberation Sans" font-size="12.01" textLength="26.20" lengthAdjust="spacingAndGlyphs" fill="#1c1c1c" stroke="#1c1c1c" stroke-width="0.3" font-weight="normal">RELAY</text>
<rect x="680.5" y="183" width="25" height="51.5" fill="#fff" stroke="#3a5e84" stroke-width="1.5"/>
<ellipse cx="693.2" cy="192.5" rx="2" ry="2.5" fill="none" stroke="#5a6e80" stroke-width="1.2"/>
<ellipse cx="693.2" cy="208.7" rx="2" ry="2.5" fill="none" stroke="#5a6e80" stroke-width="1.2"/>
<ellipse cx="693.2" cy="223.7" rx="2" ry="2.5" fill="none" stroke="#5a6e80" stroke-width="1.2"/>
<text x="670.5" y="191.2" font-family="Liberation Sans" font-size="12.15" textLength="4.50" lengthAdjust="spacingAndGlyphs" fill="#1c1c1c" stroke="#1c1c1c" stroke-width="0.3" font-weight="normal">L</text>
<text x="670" y="207.5" font-family="Liberation Sans" font-size="12.29" textLength="6.00" lengthAdjust="spacingAndGlyphs" fill="#1c1c1c" stroke="#1c1c1c" stroke-width="0.3" font-weight="normal">N</text>
<text x="671" y="222.5" font-family="Liberation Sans" font-size="12.29" textLength="5.00" lengthAdjust="spacingAndGlyphs" fill="#1c1c1c" stroke="#1c1c1c" stroke-width="0.3" font-weight="normal">E</text>
<text x="659.5" y="250" font-family="Liberation Sans" font-size="12.29" textLength="23.50" lengthAdjust="spacingAndGlyphs" fill="#1c1c1c" stroke="#1c1c1c" stroke-width="0.3" font-weight="normal">CON3</text>
<text x="659.5" y="266.2" font-family="Liberation Sans" font-size="12.15" textLength="18.00" lengthAdjust="spacingAndGlyphs" fill="#1c1c1c" stroke="#1c1c1c" stroke-width="0.3" font-weight="normal">FOR</text>
<text x="659.5" y="283.7" font-family="Liberation Sans" font-size="12.85" textLength="46.00" lengthAdjust="spacingAndGlyphs" fill="#1c1c1c" stroke="#1c1c1c" stroke-width="0.3" font-weight="normal">LIGHT/FAN</text>
<line x1="391.6" y1="338" x2="391.6" y2="350.5" stroke="#141414" stroke-width="1.4"/>
<line x1="382" y1="350.5" x2="401" y2="350.5" stroke="#141414" stroke-width="1.4"/>
<line x1="385.5" y1="355" x2="397.5" y2="355" stroke="#141414" stroke-width="1.3"/>
<line x1="387" y1="358" x2="396" y2="358" stroke="#141414" stroke-width="1.2"/>
<line x1="389" y1="360.8" x2="394" y2="360.8" stroke="#141414" stroke-width="1.2"/>
<text x="360" y="354.2" font-family="Liberation Sans" font-size="13.55" textLength="17.50" lengthAdjust="spacingAndGlyphs" fill="#1c1c1c" stroke="#1c1c1c" stroke-width="0.3" font-weight="normal">GND</text>
<text x="71.4" y="367" font-family="Liberation Sans" font-size="12.15" textLength="278.40" lengthAdjust="spacingAndGlyphs" fill="#1c1c1c" stroke="#1c1c1c" stroke-width="0.3" font-weight="normal">X1 = 230V AC PRIMARY TO 9V, 300mA SECONDARY TRANSFORMER</text>
<ellipse cx="200" cy="55.3" rx="3.1999999999999997" ry="3.8" fill="#1d4f8c"/>
<ellipse cx="238" cy="55.3" rx="3.1999999999999997" ry="3.8" fill="#1d4f8c"/>
<ellipse cx="293.9" cy="55.3" rx="3.1999999999999997" ry="3.8" fill="#1d4f8c"/>
<ellipse cx="321.6" cy="55.3" rx="3.1999999999999997" ry="3.8" fill="#1d4f8c"/>
<ellipse cx="392.5" cy="55.3" rx="3.1999999999999997" ry="3.8" fill="#1d4f8c"/>
<ellipse cx="418.8" cy="55.3" rx="3.1999999999999997" ry="3.8" fill="#1d4f8c"/>
<ellipse cx="528.1" cy="55.3" rx="3.1999999999999997" ry="3.8" fill="#1d4f8c"/>
<ellipse cx="580.3" cy="55.3" rx="3.1999999999999997" ry="3.8" fill="#1d4f8c"/>
<ellipse cx="200" cy="152.5" rx="3.1999999999999997" ry="3.8" fill="#1d4f8c"/>
<ellipse cx="293.9" cy="216.5" rx="3.1999999999999997" ry="3.8" fill="#1d4f8c"/>
<ellipse cx="266.2" cy="232.3" rx="3.1999999999999997" ry="3.8" fill="#1d4f8c"/>
<ellipse cx="200" cy="247.5" rx="3.1999999999999997" ry="3.8" fill="#1d4f8c"/>
<ellipse cx="216" cy="338" rx="3.1999999999999997" ry="3.8" fill="#1d4f8c"/>
<ellipse cx="238" cy="338" rx="3.1999999999999997" ry="3.8" fill="#1d4f8c"/>
<ellipse cx="293.9" cy="338" rx="3.1999999999999997" ry="3.8" fill="#1d4f8c"/>
<ellipse cx="351.6" cy="338" rx="3.1999999999999997" ry="3.8" fill="#1d4f8c"/>
<ellipse cx="391.6" cy="338" rx="3.1999999999999997" ry="3.8" fill="#1d4f8c"/>
<ellipse cx="424.6" cy="338" rx="3.1999999999999997" ry="3.8" fill="#1d4f8c"/>
<ellipse cx="528.1" cy="338" rx="3.1999999999999997" ry="3.8" fill="#1d4f8c"/>
<ellipse cx="392.5" cy="134" rx="3.1999999999999997" ry="3.8" fill="#1d4f8c"/>
<ellipse cx="392" cy="200.8" rx="3.1999999999999997" ry="3.8" fill="#1d4f8c"/>
<ellipse cx="403.8" cy="200.8" rx="3.1999999999999997" ry="3.8" fill="#1d4f8c"/>
<ellipse cx="419.5" cy="219.3" rx="3.1999999999999997" ry="3.8" fill="#1d4f8c"/>
<ellipse cx="528.1" cy="183" rx="3.1999999999999997" ry="3.8" fill="#1d4f8c"/>
<ellipse cx="528.1" cy="219.7" rx="3.1999999999999997" ry="3.8" fill="#1d4f8c"/>
<ellipse cx="541.5" cy="261" rx="3.1999999999999997" ry="3.8" fill="#1d4f8c"/>
<ellipse cx="528.1" cy="295" rx="3.1999999999999997" ry="3.8" fill="#1d4f8c"/>
<ellipse cx="599.3" cy="190.3" rx="3.1999999999999997" ry="3.8" fill="#1d4f8c"/>
<text x="315" y="476.6" font-family="Liberation Serif" font-size="18.5" fill="#111" stroke="#111" stroke-width="0.15" textLength="175.8" lengthAdjust="spacingAndGlyphs">Fig 2.1 Circuit Diagram</text>
</svg></body></html>
